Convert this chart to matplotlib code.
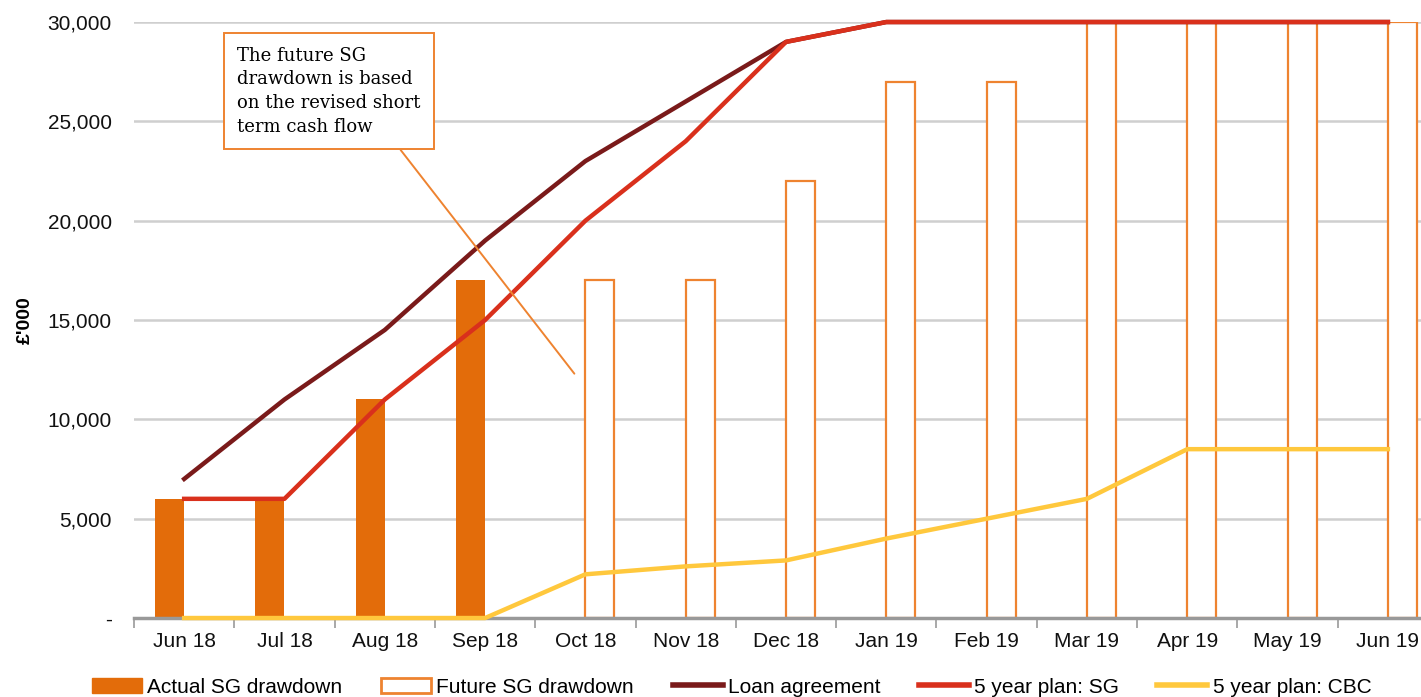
import matplotlib.pyplot as plt
from matplotlib.patches import Patch
from matplotlib.lines import Line2D
from matplotlib.ticker import FuncFormatter
import numpy as np

# Data (£'000)
months = ['Jun 18', 'Jul 18', 'Aug 18', 'Sep 18', 'Oct 18', 'Nov 18', 'Dec 18',
          'Jan 19', 'Feb 19', 'Mar 19', 'Apr 19', 'May 19', 'Jun 19']
actual_sg = [6000, 6000, 11000, 17000, None, None, None, None, None, None, None, None, None]
future_sg = [None, None, None, None, 17000, 17000, 22000, 27000, 27000, 30000, 30000, 30000, 30000]
loan_agreement = [7000, 11000, 14500, 19000, 23000, 26000, 29000, 30000, 30000, 30000, 30000, 30000, 30000]
plan_sg = [6000, 6000, 11000, 15000, 20000, 24000, 29000, 30000, 30000, 30000, 30000, 30000, 30000]
plan_cbc = [0, 0, 0, 0, 2200, 2600, 2900, 4000, 5000, 6000, 8500, 8500, 8500]

c_actual = '#E36C0A'
c_future = '#EE8330'
c_loan = '#7A1A1A'
c_plan_sg = '#D9301C'
c_cbc = '#FFC83D'

plt.rcParams['font.family'] = ['Liberation Sans', 'DejaVu Sans']

fig = plt.figure(figsize=(14.21, 6.97), dpi=100)
ax = fig.add_axes([0.0943, 0.1133, 0.9177, 0.8551])

x = np.arange(len(months))
w = 0.29

xa = [i for i, v in enumerate(actual_sg) if v is not None]
ax.bar(np.array(xa) - w / 2, [actual_sg[i] for i in xa], width=w, color=c_actual, zorder=2)
xf = [i for i, v in enumerate(future_sg) if v is not None]
ax.bar(np.array(xf) + w / 2, [future_sg[i] for i in xf], width=w, facecolor='white',
       edgecolor=c_future, linewidth=1.6, zorder=2)

ax.plot(x, loan_agreement, color=c_loan, lw=3.2, zorder=3, clip_on=False)
ax.plot(x, plan_sg, color=c_plan_sg, lw=3.2, zorder=4, clip_on=False)
ax.plot(x, plan_cbc, color=c_cbc, lw=3.2, zorder=4, clip_on=False)

ax.set_xlim(-0.5, len(months) - 0.5)
ax.set_ylim(0, 30000)
ax.set_yticks(np.arange(0, 30001, 5000))
ax.yaxis.set_major_formatter(FuncFormatter(lambda v, p: '-' if v == 0 else f'{v:,.0f}'))
ax.grid(axis='y', color='#CFCFCF', lw=1.8, zorder=0)
ax.set_axisbelow(True)

ax.set_xticks(x)
ax.set_xticklabels(months)
ax.set_xticks(np.arange(-0.5, len(months), 1), minor=True)
ax.tick_params(axis='x', which='major', length=0, pad=10, labelsize=15, colors='#111111')
ax.tick_params(axis='x', which='minor', length=7, width=1.2, color='#999999')
ax.tick_params(axis='y', length=0, pad=16, labelsize=15, colors='#111111')

for s in ['top', 'right', 'left']:
    ax.spines[s].set_visible(False)
ax.spines['bottom'].set_color('#999999')
ax.spines['bottom'].set_linewidth(2.5)

ax.set_ylabel("£'000", fontsize=14, fontweight='bold', labelpad=10)

ax.annotate('The future SG\ndrawdown is based\non the revised short\nterm cash flow',
            xy=(3.89, 12300), xytext=(0.53, 28750), xycoords='data',
            ha='left', va='top', fontsize=13, family='DejaVu Serif', linespacing=1.4,
            bbox=dict(boxstyle='square,pad=0.75', facecolor='white', edgecolor=c_future, lw=1.4),
            arrowprops=dict(arrowstyle='-', color=c_future, lw=1.4, relpos=(0.83, 0.0),
                            shrinkA=0, shrinkB=0),
            zorder=6)

handles = [Patch(facecolor=c_actual, edgecolor=c_actual),
           Patch(facecolor='white', edgecolor=c_future, linewidth=2),
           Line2D([], [], color=c_loan, lw=4),
           Line2D([], [], color=c_plan_sg, lw=4),
           Line2D([], [], color=c_cbc, lw=4)]
labels = ['Actual SG drawdown', 'Future SG drawdown', 'Loan agreement',
          '5 year plan: SG', '5 year plan: CBC']
fig.legend(handles, labels, loc='center', bbox_to_anchor=(0.515, 0.0143), ncol=5,
           frameon=False, fontsize=15, handlelength=2.4, handleheight=0.7,
           handletextpad=0.25, columnspacing=1.85, borderpad=0, borderaxespad=0)

fig.savefig('out.png', dpi=100)
